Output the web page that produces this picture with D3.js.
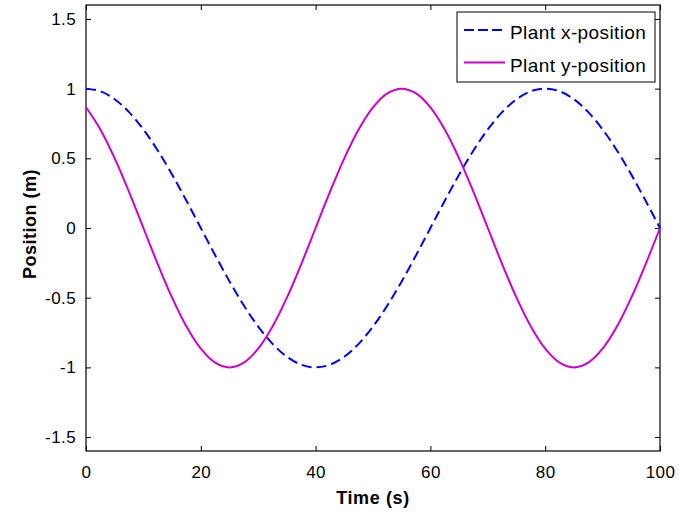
<!DOCTYPE html>
<html><head><meta charset="utf-8">
<script src="https://cdn.jsdelivr.net/npm/d3@7"></script>
<style>body{margin:0;background:#fff;} text{font-family:"Liberation Sans",Arial,sans-serif;}</style>
</head><body><svg id="c" width="679" height="512"></svg>
<script>
const time = [0,2.5,5,7.5,10,12.5,15,17.5,20,22.5,25,27.5,30,32.5,35,37.5,40,42.5,45,47.5,50,52.5,55,57.5,60,62.5,65,67.5,70,72.5,75,77.5,80,82.5,85,87.5,90,92.5,95,97.5,100];
const xPos = [1,0.981,0.924,0.831,0.707,0.556,0.383,0.195,0,-0.195,-0.383,-0.556,-0.707,-0.831,-0.924,-0.981,-1,-0.981,-0.924,-0.831,-0.707,-0.556,-0.383,-0.195,0,0.195,0.383,0.556,0.707,0.831,0.924,0.981,1,0.981,0.924,0.831,0.707,0.556,0.383,0.195,0];
const yPos = [0.866,0.707,0.5,0.259,0,-0.259,-0.5,-0.707,-0.866,-0.966,-1,-0.966,-0.866,-0.707,-0.5,-0.259,0,0.259,0.5,0.707,0.866,0.966,1,0.966,0.866,0.707,0.5,0.259,0,-0.259,-0.5,-0.707,-0.866,-0.966,-1,-0.966,-0.866,-0.707,-0.5,-0.259,0];
const xTicks = [0,20,40,60,80,100];
const yTicks = [-1.5,-1,-0.5,0,0.5,1,1.5];
const seriesNames = ["Plant x-position","Plant y-position"];
const seriesColors = ["#0000ff","#cc00cc"];

const svg = d3.select("#c");
const L=86, R=660, T=5, B=451;
const x = d3.scaleLinear().domain([0,100]).range([L,R]);
const y = d3.scaleLinear().domain([-1.6,1.6]).range([B,T]);

const g = svg.append("g");
const fmt = d => String(d);
g.append("g").attr("class","xb").attr("transform",`translate(0,${B})`)
  .call(d3.axisBottom(x).tickValues(xTicks).tickFormat(fmt).tickSizeInner(-5).tickSizeOuter(0).tickPadding(15));
g.append("g").attr("transform",`translate(0,${T})`)
  .call(d3.axisTop(x).tickValues(xTicks).tickFormat("").tickSizeInner(-5).tickSizeOuter(0));
g.append("g").attr("class","yl").attr("transform",`translate(${L},0)`)
  .call(d3.axisLeft(y).tickValues(yTicks).tickFormat(fmt).tickSizeInner(-5).tickSizeOuter(0).tickPadding(10));
g.append("g").attr("transform",`translate(${R},0)`)
  .call(d3.axisRight(y).tickValues(yTicks).tickFormat("").tickSizeInner(-5).tickSizeOuter(0));
g.selectAll(".domain").remove();
g.selectAll(".tick line").attr("stroke","#000").attr("stroke-width",1);
g.selectAll(".tick text").attr("font-size",17).attr("fill","#000")
  .attr("font-family","Liberation Sans, Arial, sans-serif").attr("letter-spacing","0.4");
svg.append("rect").attr("x",L).attr("y",T).attr("width",R-L).attr("height",B-T)
  .attr("fill","none").attr("stroke","#000").attr("stroke-width",1.2);

const line = (vals) => d3.line().x((d,i)=>x(time[i])).y(d=>y(d)).curve(d3.curveCatmullRom)(vals);
svg.append("path").attr("d",line(xPos)).attr("fill","none").attr("stroke",seriesColors[0])
  .attr("stroke-width",2).attr("stroke-dasharray","10,5");
svg.append("path").attr("d",line(yPos)).attr("fill","none").attr("stroke",seriesColors[1])
  .attr("stroke-width",2);

// labels
svg.append("text").attr("x",373).attr("y",504).attr("text-anchor","middle")
  .attr("font-size",18).attr("font-weight","bold").attr("letter-spacing","0.6").text("Time (s)");
svg.append("text").attr("transform","translate(36,224) rotate(-90)").attr("text-anchor","middle")
  .attr("font-size",18).attr("font-weight","bold").attr("letter-spacing","0.5").text("Position (m)");

// legend
const lg = svg.append("g");
lg.append("rect").attr("x",457).attr("y",12).attr("width",198).attr("height",70)
  .attr("fill","#fff").attr("stroke","#000").attr("stroke-width",1);
seriesNames.forEach((n,i)=>{
  const yy = 30 + i*32.5;
  lg.append("line").attr("x1",464).attr("x2",505).attr("y1",yy).attr("y2",yy)
    .attr("stroke",seriesColors[i]).attr("stroke-width",2)
    .attr("stroke-dasharray", i===0 ? "10,4" : null);
  lg.append("text").attr("x",510).attr("y",yy+9).attr("font-size",19)
    .attr("letter-spacing","0.4").text(n);
});
</script></body></html>
